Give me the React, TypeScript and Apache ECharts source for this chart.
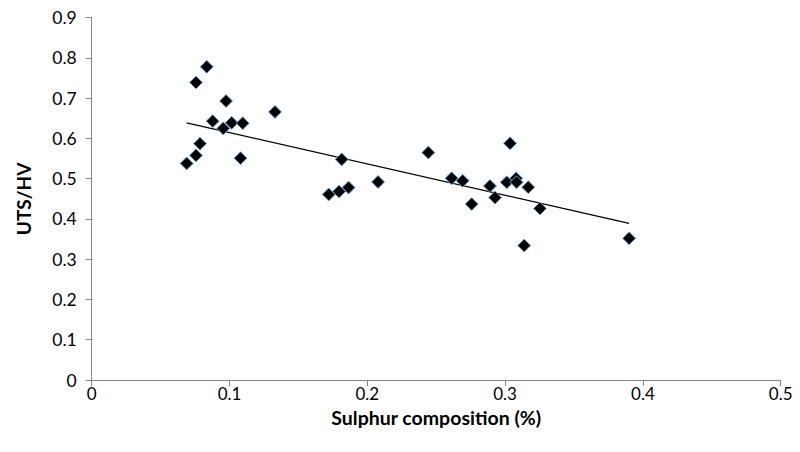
import React, { useEffect, useRef } from "react";
import * as echarts from "echarts";

const sulphur = [
  0.0689, 0.0757, 0.0757, 0.0835, 0.0786, 0.0878, 0.0975, 0.0955, 0.1016, 0.1096,
  0.108, 0.133, 0.172, 0.1795, 0.1814, 0.1864, 0.2078, 0.2443, 0.2612, 0.2692,
  0.2758, 0.289, 0.2927, 0.3036, 0.3012, 0.308, 0.3083, 0.3168, 0.3139, 0.3253, 0.39,
];
const utsHv = [
  0.538, 0.558, 0.739, 0.778, 0.587, 0.643, 0.693, 0.625, 0.639, 0.638,
  0.551, 0.666, 0.461, 0.468, 0.548, 0.478, 0.492, 0.565, 0.501, 0.495,
  0.437, 0.482, 0.453, 0.588, 0.491, 0.501, 0.491, 0.479, 0.334, 0.426, 0.352,
];
const trendX = [0.0689, 0.39];
const trendY = [0.639, 0.389];

const xTitle = "Sulphur composition (%)";
const yTitle = "UTS/HV";

export default function App() {
  const ref = useRef<HTMLDivElement>(null);
  useEffect(() => {
    document.body.style.margin = "0";
    const chart = echarts.init(ref.current!, null, { renderer: "svg" });
    const font = "Lato, 'Open Sans', sans-serif";
    const axisGray = "#868686";
    const fmt = (v: number) => String(Math.round(v * 10) / 10);
    chart.setOption({
      animation: false,
      backgroundColor: "#ffffff",
      grid: { left: 91.7, right: 19.3, top: 17.7, bottom: 72, containLabel: false },
      xAxis: {
        type: "value",
        min: 0,
        max: 0.5,
        interval: 0.1,
        name: xTitle,
        nameLocation: "middle",
        nameGap: 27,
        nameMoveOverlap: false,
        nameTextStyle: { fontFamily: font, fontSize: 19.5, fontWeight: "bold", color: "#000", lineHeight: 20 },
        axisLine: { show: true, lineStyle: { color: axisGray, width: 1 } },
        axisTick: { show: true, inside: false, length: 6, lineStyle: { color: axisGray } },
        axisLabel: { margin: 4, fontFamily: font, fontSize: 17, lineHeight: 18, color: "#000", formatter: fmt },
        splitLine: { show: false },
      },
      yAxis: {
        type: "value",
        min: 0,
        max: 0.9,
        interval: 0.1,
        name: yTitle,
        nameLocation: "middle",
        nameGap: 59,
        nameRotate: 90,
        nameMoveOverlap: false,
        nameTextStyle: { fontFamily: font, fontSize: 19, fontWeight: "bold", color: "#000" },
        axisLine: { show: true, lineStyle: { color: axisGray, width: 1 } },
        axisTick: { show: true, inside: false, length: 6, lineStyle: { color: axisGray } },
        axisLabel: { margin: 15, fontFamily: font, fontSize: 17.5, color: "#000", formatter: fmt },
        splitLine: { show: false },
      },
      series: [
        {
          type: "line",
          data: trendX.map((x, i) => [x, trendY[i]]),
          symbol: "none",
          lineStyle: { color: "#000", width: 1.3 },
          silent: true,
          z: 1,
        },
        {
          type: "scatter",
          data: sulphur.map((x, i) => [x, utsHv[i]]),
          symbol: "diamond",
          symbolSize: 13,
          itemStyle: { color: "#000", borderColor: "#6fa8dc", borderWidth: 1, opacity: 1 },
          z: 2,
        },
      ],
    });
    return () => chart.dispose();
  }, []);
  return <div ref={ref} style={{ width: 800, height: 452 }} />;
}
